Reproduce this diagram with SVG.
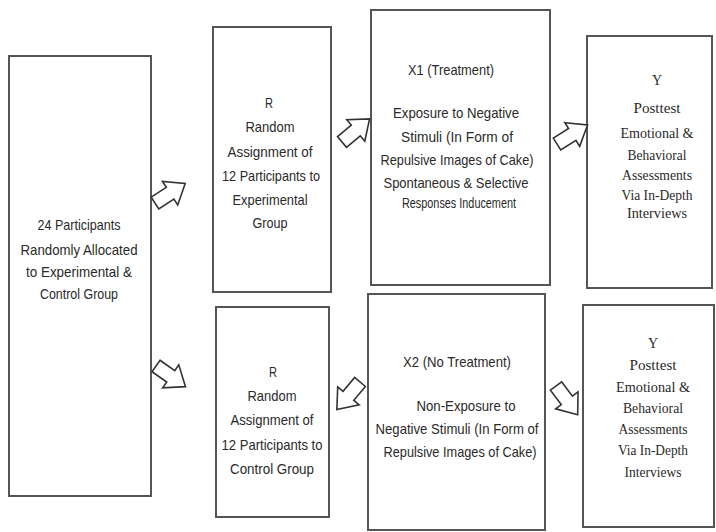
<svg xmlns="http://www.w3.org/2000/svg" width="716" height="532" viewBox="0 0 716 532">
<style>
.box{fill:#fff;stroke:#555;stroke-width:2}
.t{font-family:"Liberation Sans",Arial,sans-serif;font-size:15px;fill:#2a2a2a;text-anchor:middle}
.s{font-family:"Liberation Serif","Times New Roman",serif;font-size:14px;fill:#2a2a2a;text-anchor:middle}
.arr{fill:#fff;stroke:#333;stroke-width:1.6;stroke-linejoin:miter}
</style>
<defs>
<path id="ba" d="M0,-7 L18,-7 L18,-14 L36,0 L18,14 L18,7 L0,7 Z"/>
</defs>
<rect width="716" height="532" fill="#fff"/>
<g id="n1">
<rect class="box" x="9" y="56" width="142" height="440"/>
<text class="t" x="79" y="230" textLength="83" lengthAdjust="spacingAndGlyphs">24 Participants</text>
<text class="t" x="79" y="255" textLength="117" lengthAdjust="spacingAndGlyphs">Randomly Allocated</text>
<text class="t" x="79" y="277" textLength="106" lengthAdjust="spacingAndGlyphs">to Experimental &amp;</text>
<text class="t" x="79" y="299" textLength="78" lengthAdjust="spacingAndGlyphs">Control Group</text>
</g>
<g id="n2">
<rect class="box" x="213" y="27" width="118" height="265"/>
<text class="t" x="269" y="108" textLength="8" lengthAdjust="spacingAndGlyphs">R</text>
<text class="t" x="270" y="132" textLength="49" lengthAdjust="spacingAndGlyphs">Random</text>
<text class="t" x="270" y="157" textLength="85" lengthAdjust="spacingAndGlyphs">Assignment of</text>
<text class="t" x="271" y="181" textLength="98" lengthAdjust="spacingAndGlyphs">12 Participants to</text>
<text class="t" x="270" y="205" textLength="75" lengthAdjust="spacingAndGlyphs">Experimental</text>
<text class="t" x="270" y="228" textLength="35" lengthAdjust="spacingAndGlyphs">Group</text>
</g>
<g id="n3">
<rect class="box" x="371" y="10" width="179" height="275"/>
<text class="t" x="451" y="75" textLength="86" lengthAdjust="spacingAndGlyphs">X1 (Treatment)</text>
<text class="t" x="456" y="118" textLength="126" lengthAdjust="spacingAndGlyphs">Exposure to Negative</text>
<text class="t" x="457" y="142" textLength="112" lengthAdjust="spacingAndGlyphs">Stimuli (In Form of</text>
<text class="t" x="457" y="165" textLength="153" lengthAdjust="spacingAndGlyphs">Repulsive Images of Cake)</text>
<text class="t" x="456" y="188" textLength="145" lengthAdjust="spacingAndGlyphs">Spontaneous &amp; Selective</text>
<text class="t" x="459" y="208" textLength="114" lengthAdjust="spacingAndGlyphs">Responses Inducement</text>
</g>
<g id="n4">
<rect class="box" x="587" y="36" width="125" height="252"/>
<text class="s" x="657" y="85">Y</text>
<text class="s" x="657" y="113" textLength="47" lengthAdjust="spacingAndGlyphs">Posttest</text>
<text class="s" x="657" y="138" textLength="73" lengthAdjust="spacingAndGlyphs">Emotional &amp;</text>
<text class="s" x="657" y="160" textLength="59" lengthAdjust="spacingAndGlyphs">Behavioral</text>
<text class="s" x="657" y="180" textLength="70" lengthAdjust="spacingAndGlyphs">Assessments</text>
<text class="s" x="657" y="200" textLength="71" lengthAdjust="spacingAndGlyphs">Via In-Depth</text>
<text class="s" x="657" y="218" textLength="60" lengthAdjust="spacingAndGlyphs">Interviews</text>
</g>
<g id="n5">
<rect class="box" x="216" y="307" width="113" height="210"/>
<text class="t" x="273" y="377" textLength="8" lengthAdjust="spacingAndGlyphs">R</text>
<text class="t" x="272" y="401" textLength="49" lengthAdjust="spacingAndGlyphs">Random</text>
<text class="t" x="272" y="425" textLength="83" lengthAdjust="spacingAndGlyphs">Assignment of</text>
<text class="t" x="272" y="450" textLength="101" lengthAdjust="spacingAndGlyphs">12 Participants to</text>
<text class="t" x="272" y="474" textLength="84" lengthAdjust="spacingAndGlyphs">Control Group</text>
</g>
<g id="n6">
<rect class="box" x="368" y="294" width="177" height="236"/>
<text class="t" x="457" y="367" textLength="108" lengthAdjust="spacingAndGlyphs">X2 (No Treatment)</text>
<text class="t" x="466" y="411" textLength="99" lengthAdjust="spacingAndGlyphs">Non-Exposure to</text>
<text class="t" x="457" y="434" textLength="163" lengthAdjust="spacingAndGlyphs">Negative Stimuli (In Form of</text>
<text class="t" x="460" y="457" textLength="153" lengthAdjust="spacingAndGlyphs">Repulsive Images of Cake)</text>
</g>
<g id="n7">
<rect class="box" x="583" y="305" width="131" height="222"/>
<text class="s" x="653" y="348">Y</text>
<text class="s" x="653" y="370" textLength="47" lengthAdjust="spacingAndGlyphs">Posttest</text>
<text class="s" x="653" y="392" textLength="74" lengthAdjust="spacingAndGlyphs">Emotional &amp;</text>
<text class="s" x="653" y="413" textLength="60" lengthAdjust="spacingAndGlyphs">Behavioral</text>
<text class="s" x="653" y="434" textLength="69" lengthAdjust="spacingAndGlyphs">Assessments</text>
<text class="s" x="653" y="455" textLength="70" lengthAdjust="spacingAndGlyphs">Via In-Depth</text>
<text class="s" x="653" y="477" textLength="57" lengthAdjust="spacingAndGlyphs">Interviews</text>
</g>
<g id="connectors">
<use href="#ba" class="arr" transform="translate(155,203) rotate(-33)"/>
<use href="#ba" class="arr" transform="translate(156,366) rotate(35)"/>
<use href="#ba" class="arr" transform="translate(342,142) rotate(-40)"/>
<use href="#ba" class="arr" transform="translate(557,144) rotate(-32)"/>
<use href="#ba" class="arr" transform="translate(360,382) rotate(130)"/>
<use href="#ba" class="arr" transform="translate(556,386) rotate(53)"/>
</g>
</svg>
